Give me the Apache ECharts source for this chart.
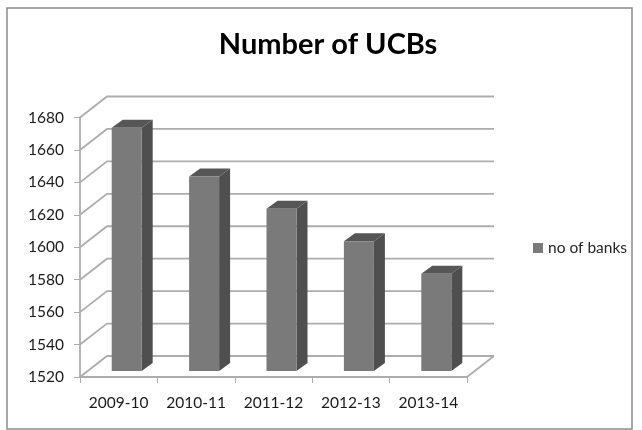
<!DOCTYPE html>
<html>
<head>
<meta charset="utf-8">
<style>html,body{margin:0;padding:0;background:#fff}#chart{width:642px;height:430px}</style>
<script src="https://cdn.jsdelivr.net/npm/echarts@6/dist/echarts.min.js"></script>
</head>
<body>
<div id="chart"></div>
<script>
const categories = ['2009-10', '2010-11', '2011-12', '2012-13', '2013-14'];
const noOfBanks = [1670, 1640, 1620, 1600, 1580];
const wallTicks = [1520, 1540, 1560, 1580, 1600, 1620, 1640, 1660, 1680];

// Oblique projection depth of the chart box, and of each column inside it.
const WALL_DX = 27, WALL_DY = -21;
const BAR_INSET_DX = 8, BAR_INSET_DY = -6;
const BAR_DX = 11, BAR_DY = -8, BAR_W = 30;
const GRID_COLOR = '#adadad';

function renderWall(params, api) {
  const p = api.coord([0, api.value(0)]);
  const x0 = params.coordSys.x, x1 = x0 + params.coordSys.width;
  const y = p[1];
  const isFloor = api.value(0) === wallTicks[0];
  const children = [
    { type: 'polyline', shape: { points: [[x0, y], [x0 + WALL_DX, y + WALL_DY], [x1 + WALL_DX, y + WALL_DY]] },
      style: { stroke: GRID_COLOR, lineWidth: 1.8, fill: null } }
  ];
  if (isFloor) {
    children.push({ type: 'line', shape: { x1: x1, y1: y, x2: x1 + WALL_DX, y2: y + WALL_DY },
      style: { stroke: GRID_COLOR, lineWidth: 1.8 } });
  }
  return { type: 'group', children };
}

function renderBar(params, api) {
  const top = api.coord([api.value(0), api.value(1)]);
  const base = api.coord([api.value(0), wallTicks[0]]);
  const l = top[0] + BAR_INSET_DX - BAR_W / 2, r = l + BAR_W;
  const yt = top[1] + BAR_INSET_DY, yb = base[1] + BAR_INSET_DY;
  const poly = (points, fill) => ({ type: 'polygon', shape: { points }, style: { fill } });
  return {
    type: 'group',
    children: [
      poly([[r, yt], [r + BAR_DX, yt + BAR_DY], [r + BAR_DX, yb + BAR_DY], [r, yb]], '#4f4f4f'),
      poly([[l, yt], [l + BAR_DX, yt + BAR_DY], [r + BAR_DX, yt + BAR_DY], [r, yt]], '#565656'),
      poly([[l, yt], [r, yt], [r, yb], [l, yb]], '#7a7a7a')
    ]
  };
}

const chart = echarts.init(document.getElementById('chart'), null, { renderer: 'canvas' });
chart.setOption({
  animation: false,
  backgroundColor: '#ffffff',
  title: {
    text: 'Number of UCBs', left: 323, top: 25, textAlign: 'center',
    textStyle: { fontFamily: 'Lato', fontWeight: 'bold', fontSize: 29, color: '#000000' }
  },
  legend: {
    left: 533, top: 240, itemWidth: 10, itemHeight: 10, itemGap: 0, padding: 0, orient: 'vertical',
    data: [{ name: 'no of banks', icon: 'rect', itemStyle: { color: '#7a7a7a' } }],
    textStyle: { fontFamily: 'Lato', fontSize: 15.5, color: '#262626', padding: [0, 0, 0, 0] }
  },
  grid: { left: 80, right: 175, top: 117.5, bottom: 53 },
  xAxis: {
    type: 'category', data: categories,
    axisLine: { show: true, lineStyle: { color: GRID_COLOR, width: 1.8 } },
    axisTick: { show: true, length: 6, interval: 0, lineStyle: { color: GRID_COLOR } },
    axisLabel: { fontFamily: 'Lato', fontSize: 15.5, color: '#1a1a1a', margin: 18, interval: 0, hideOverlap: false },
    splitLine: { show: false }
  },
  yAxis: {
    type: 'value', min: 1520, max: 1680, interval: 20,
    axisLine: { show: true, lineStyle: { color: GRID_COLOR, width: 1.8 } },
    axisTick: { show: true, length: 6, lineStyle: { color: GRID_COLOR } },
    axisLabel: { fontFamily: 'Lato', fontSize: 15.5, color: '#1a1a1a', margin: 16, formatter: v => String(v) },
    splitLine: { show: false }
  },
  series: [
    { type: 'custom', name: 'walls', silent: true, clip: false, z: 1, renderItem: renderWall,
      data: wallTicks.map(v => [v]), encode: { y: 0 } },
    { type: 'custom', name: 'no of banks', clip: false, z: 2, renderItem: renderBar,
      itemStyle: { color: '#7a7a7a' },
      data: categories.map((c, i) => [i, noOfBanks[i]]), encode: { x: 0, y: 1 } }
  ],
  graphic: [
    { type: 'rect', silent: true, z: 100,
      shape: { x: 7, y: 8, width: 625, height: 421 },
      style: { fill: null, stroke: '#8c8c8c', lineWidth: 1.5 } }
  ]
});
</script>
</body>
</html>
